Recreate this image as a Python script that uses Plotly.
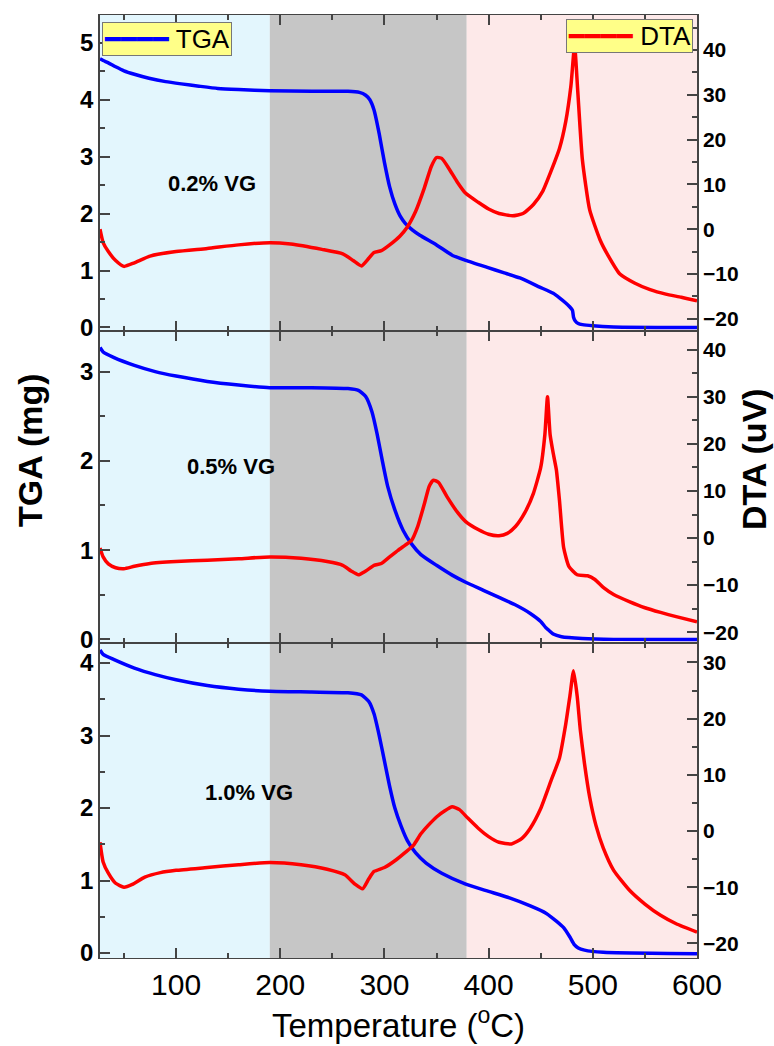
import plotly.graph_objects as go

# ---------------- data ----------------
# 0.2 % VG
t_tga_02 = [27, 30, 35, 42, 50, 60, 74, 90, 105, 122, 140, 160, 190, 230, 265, 276, 282, 286,
            290, 295, 300, 305, 310, 315, 320, 327, 334, 350, 365, 378, 398, 415, 430, 449, 462,
            468, 474, 478, 480.5, 481.5, 483, 486, 490, 500, 520, 600]
tga_02 = [4.72, 4.69, 4.65, 4.58, 4.51, 4.45, 4.38, 4.32, 4.28, 4.24, 4.2, 4.18, 4.16, 4.15, 4.15,
          4.13, 4.08, 4.0, 3.82, 3.4, 2.9, 2.47, 2.17, 1.96, 1.83, 1.71, 1.62, 1.45, 1.27, 1.18,
          1.06, 0.96, 0.87, 0.71, 0.6, 0.52, 0.43, 0.36, 0.3, 0.18, 0.12, 0.07, 0.05, 0.03, 0.01, 0.0]
t_dta_02 = [27, 30, 35, 42, 50, 60, 75, 100, 130, 160, 190, 210, 240, 260, 270, 278, 285, 290,
            297, 305, 315, 322, 330, 338, 345, 350, 355, 362, 370, 378, 390, 400, 410, 423, 433,
            443, 452, 460, 468, 474, 479, 482.5, 485.5, 490, 497, 507, 515, 526, 540, 555, 570,
            585, 600]
dta_02 = [0, -3, -5, -7, -8.3, -7.5, -6, -5, -4.3, -3.5, -3, -3.3, -4.5, -5.5, -7, -8.2, -6.5,
          -5.2, -4.8, -3.5, -1.5, 0.5, 4, 9, 14, 16, 15.8, 13.5, 10.5, 8, 6, 4.5, 3.5, 3.0, 3.5,
          5.5, 8.5, 13, 18, 24, 32, 41, 31, 15.5, 4.3, -2.4, -6, -10, -12, -13.5, -14.5, -15.2, -16]

# 0.5 % VG
t_tga_05 = [27, 30, 40, 60, 80, 100, 130, 160, 190, 230, 265, 275, 282, 288, 293, 298, 303, 310,
            318, 326, 335, 350, 365, 378, 395, 410, 425, 440, 450, 455, 458, 462, 470, 490, 520, 600]
tga_05 = [3.27, 3.22, 3.16, 3.07, 3.0, 2.95, 2.89, 2.85, 2.82, 2.82, 2.81, 2.79, 2.72, 2.55, 2.3,
          2.0, 1.72, 1.45, 1.22, 1.07, 0.95, 0.83, 0.72, 0.64, 0.55, 0.47, 0.39, 0.29, 0.2, 0.13,
          0.1, 0.06, 0.03, 0.01, 0.0, 0.0]
t_dta_05 = [27, 30, 35, 42, 50, 60, 75, 100, 130, 160, 190, 220, 245, 260, 268, 275, 282, 290,
            297, 305, 313, 320, 326, 332, 338, 343, 347, 352, 360, 370, 378, 390, 400, 410, 418,
            426, 435, 443, 450, 454, 456.5, 459, 462, 465, 468, 472, 477, 485, 495, 502, 510, 520,
            535, 550, 565, 580, 600]
dta_05 = [-2.1, -4, -5.5, -6.3, -6.5, -6, -5.4, -5, -4.7, -4.4, -4, -4.3, -5, -5.8, -7, -7.8, -7,
          -5.8, -5.4, -4, -2.6, -1.5, -0.5, 2.5, 7, 11, 12.3, 11.8, 8.8, 5.5, 3.5, 1.8, 0.8, 0.5,
          1, 2.5, 5.5, 9.5, 15, 22, 30, 22, 18, 14.5, 8, -2, -6, -7.8, -8, -8.8, -10.5, -12,
          -13.5, -14.8, -15.8, -16.7, -17.8]

# 1.0 % VG
t_tga_10 = [27, 30, 40, 60, 80, 100, 130, 160, 190, 230, 265, 278, 285, 290, 295, 300, 305, 310,
            316, 322, 330, 340, 355, 378, 400, 420, 440, 455, 465, 472, 478, 482, 486, 492, 510, 600]
tga_10 = [4.18, 4.12, 4.05, 3.93, 3.84, 3.77, 3.69, 3.64, 3.61, 3.6, 3.59, 3.56, 3.47, 3.3, 3.0,
          2.65, 2.3, 2.0, 1.75, 1.55, 1.38, 1.24, 1.1, 0.95, 0.85, 0.76, 0.65, 0.55, 0.44, 0.35,
          0.22, 0.12, 0.07, 0.04, 0.01, -0.01]
t_dta_10 = [27, 30, 35, 42, 50, 58, 70, 85, 100, 130, 160, 190, 220, 245, 262, 272, 279, 285, 290,
            300, 310, 320, 328, 335, 342, 350, 358, 365, 372, 380, 390, 400, 410, 422, 432, 440,
            450, 460, 468, 474, 478, 481.5, 485, 488, 492, 497, 503, 510, 520, 535, 550, 565, 580,
            600]
dta_10 = [-2, -5.5, -7.5, -9.3, -10, -9.5, -8.2, -7.4, -7, -6.5, -6, -5.6, -6, -6.8, -7.8, -9.5,
          -10.3, -8.5, -7.2, -6.5, -5.3, -3.8, -2.5, -0.5, 1, 2.5, 3.6, 4.3, 3.8, 2.3, 0.5, -1, -2,
          -2.3, -1.3, 0.5, 4, 9, 13, 19, 24, 28.5, 24, 18, 12, 6, 1, -3, -7, -10.5, -13, -15,
          -16.5, -18]

panel_labels = ["0.2% VG", "0.5% VG", "1.0% VG"]
legend_names = ["TGA", "DTA"]
x_ticks = [100, 200, 300, 400, 500, 600]
regions = [(27, 190, "#E3F6FD"), (190, 379, "#C6C6C6"), (379, 600, "#FDE9E9")]

# ---------------- figure ----------------
FR = "Liberation Sans, Arial, sans-serif"
AX = "#444444"
BLUE = "#0000FF"
RED = "#FF0000"

fig = go.Figure()
series = [(t_tga_02, tga_02, t_dta_02, dta_02),
          (t_tga_05, tga_05, t_dta_05, dta_05),
          (t_tga_10, tga_10, t_dta_10, dta_10)]
for i, (tt, tg, td, dt) in enumerate(series):
    xa = "x" if i == 0 else f"x{i+1}"
    ya = "y" if i == 0 else f"y{2*i+1}"
    yb = f"y{2*i+2}"
    fig.add_trace(go.Scatter(x=tt, y=tg, xaxis=xa, yaxis=ya, mode="lines", name=legend_names[0],
                             line=dict(color=BLUE, width=3.5, shape="spline", smoothing=0.5),
                             showlegend=False))
    fig.add_trace(go.Scatter(x=td, y=dt, xaxis=xa, yaxis=yb, mode="lines", name=legend_names[1],
                             line=dict(color=RED, width=3.5, shape="spline", smoothing=0.5),
                             showlegend=False))

domains = [[0.665, 1.0], [0.334, 0.665], [0.0, 0.334]]
tga_ranges = [[-0.06, 5.49], [-0.041, 3.456], [-0.069, 4.276]]
dta_ranges = [[-22.7, 47.8], [-22.3, 44.0], [-22.6, 33.45]]

layout = dict(
    width=774, height=1046,
    margin=dict(l=100, r=77, t=15, b=88),
    paper_bgcolor="white", plot_bgcolor="white",
    showlegend=False,
)

for i in range(3):
    xkey = "xaxis" if i == 0 else f"xaxis{i+1}"
    ykey = "yaxis" if i == 0 else f"yaxis{2*i+1}"
    y2key = f"yaxis{2*i+2}"
    yname = "y" if i == 0 else f"y{2*i+1}"
    layout[xkey] = dict(
        domain=[0, 1], anchor=yname, range=[27, 600],
        tickmode="array", tickvals=x_ticks, ticktext=[str(v) for v in x_ticks],
        showticklabels=(i == 2),
        tickfont=dict(family=FR, size=30, color="black"),
        ticks="inside", ticklen=10, tickwidth=1.5, tickcolor=AX,
        minor=dict(tickmode="array", tickvals=[50, 150, 250, 350, 450, 550],
                   ticks="inside", ticklen=5, tickwidth=1.5, tickcolor=AX),
        showline=True, linecolor=AX, linewidth=1.2, mirror="ticks",
        showgrid=False, zeroline=False,
    )
    if i > 0:
        layout[xkey]["matches"] = "x"
    layout[ykey] = dict(
        domain=domains[i], anchor="x" if i == 0 else f"x{i+1}", range=tga_ranges[i],
        dtick=1, tick0=0,
        tickfont=dict(family=FR, size=24, color="black", weight="bold"),
        ticks="inside", ticklen=10, tickwidth=1.5, tickcolor=AX,
        minor=dict(dtick=0.5, ticks="inside", ticklen=5, tickwidth=1.5, tickcolor=AX),
        showline=True, linecolor=AX, linewidth=1.5,
        showgrid=False, zeroline=False,
    )
    layout[y2key] = dict(
        overlaying=yname, side="right", anchor="x" if i == 0 else f"x{i+1}",
        range=dta_ranges[i], dtick=10, tick0=0,
        tickfont=dict(family=FR, size=21, color="black", weight="bold"),
        ticks="inside", ticklen=10, tickwidth=1.5, tickcolor=AX,
        minor=dict(dtick=5, ticks="inside", ticklen=5, tickwidth=1.5, tickcolor=AX),
        showline=True, linecolor=AX, linewidth=1.5,
        showgrid=False, zeroline=False,
    )

shapes = []
for x0, x1, col in regions:
    shapes.append(dict(type="rect", xref="x", yref="paper", x0=x0, x1=x1, y0=0, y1=1,
                       fillcolor=col, line=dict(width=0), layer="below"))
layout["shapes"] = shapes

ann = []
# legend boxes (line sample + name)
leg_specs = [(legend_names[0], BLUE, (102 - 100) / 597, (958 - 22) / 943, "left"),
             (legend_names[1], RED, (693 - 100) / 597, (958 - 19) / 943, "right")]
for name, col, lx, ly, anc in leg_specs:
    ann.append(dict(text=f"<span style='color:{col}'>━━━━</span> {name}",
                    xref="paper", yref="paper", x=lx, y=ly, xanchor=anc, yanchor="top",
                    showarrow=False, bgcolor="#FFFF88", bordercolor="#777777",
                    borderwidth=1, borderpad=1,
                    font=dict(family=FR, size=26, color="black")))

label_pos = [(212, 183), (231, 466), (249, 792)]
for (px, py), txt in zip(label_pos, panel_labels):
    ann.append(dict(text=txt, xref="paper", yref="paper",
                    x=(px - 100) / 597, y=(958 - py) / 943, xanchor="center", yanchor="middle",
                    showarrow=False, font=dict(family=FR, size=22, color="black", weight="bold")))
ann.append(dict(text="Temperature (<sup>o</sup>C)", xref="paper", yref="paper",
                x=(398 - 100) / 597, y=(958 - 1023) / 943, xanchor="center", yanchor="middle",
                showarrow=False, font=dict(family=FR, size=33, color="black")))
ann.append(dict(text="TGA (mg)", xref="paper", yref="paper", textangle=-90,
                x=(30 - 100) / 597, y=(958 - 450) / 943, xanchor="center", yanchor="middle",
                showarrow=False, font=dict(family=FR, size=34, color="black", weight="bold")))
ann.append(dict(text="DTA (uV)", xref="paper", yref="paper", textangle=-90,
                x=(754 - 100) / 597, y=(958 - 459) / 943, xanchor="center", yanchor="middle",
                showarrow=False, font=dict(family=FR, size=34, color="black", weight="bold")))
layout["annotations"] = ann

fig.update_layout(**layout)
fig.write_html("out.html")
